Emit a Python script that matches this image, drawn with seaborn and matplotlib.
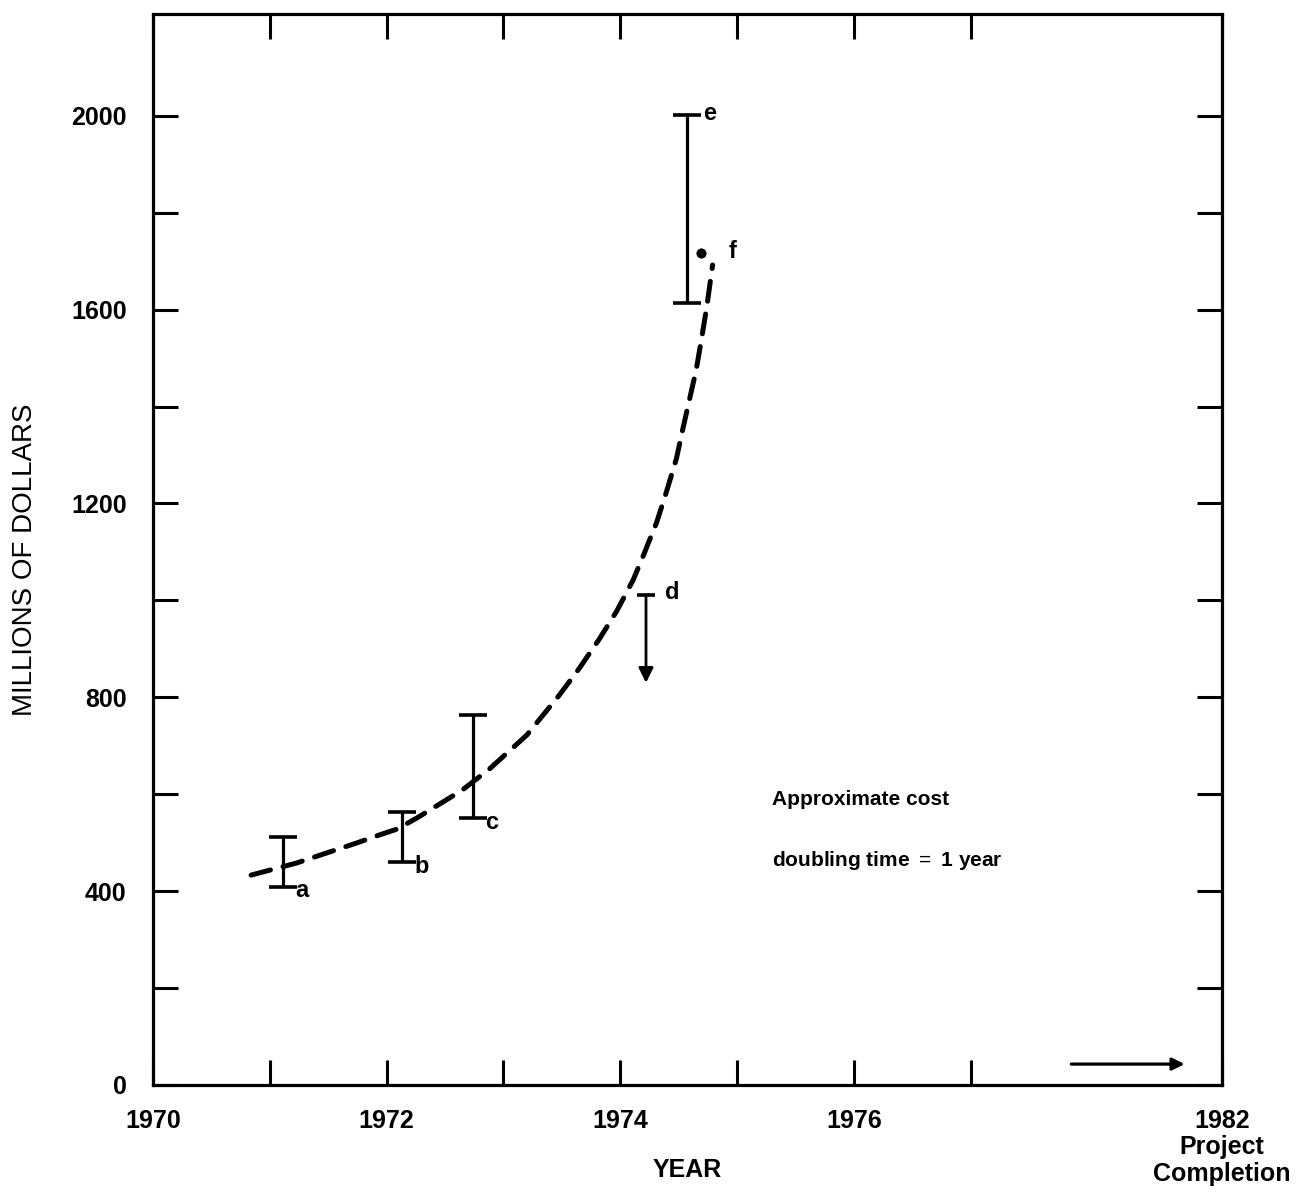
import matplotlib
matplotlib.use("Agg")
import matplotlib.pyplot as plt
import seaborn as sns
import pandas as pd

# ---- data ----
curve_years = [1970.84, 1971.23, 1971.49, 1971.74, 1971.94, 1972.09, 1972.26, 1972.51,
               1972.65, 1972.88, 1973.20, 1973.48, 1973.65, 1973.82, 1973.97, 1974.11,
               1974.19, 1974.31, 1974.39, 1974.48, 1974.53, 1974.59, 1974.65, 1974.69,
               1974.74, 1974.79]
curve_cost = [433, 458, 479, 499, 516, 528, 551, 588,
              609, 652, 722, 805, 860, 920, 978, 1042,
              1088, 1160, 1220, 1292, 1348, 1412, 1476, 1532,
              1605, 1692]

range_labels = ["a", "b", "c", "e"]
range_years = [1971.11, 1972.13, 1972.74, 1974.57]
range_low = [409, 460, 551, 1614]
range_high = [512, 563, 764, 2002]

limit_label = "d"
limit_year = 1974.22
limit_value = 1011
limit_arrow_to = 830

point_label = "f"
point_year = 1974.69
point_value = 1717

x_tick_pos = [1970, 1972, 1974, 1976, 1979.15]
x_tick_labels = ["1970", "1972", "1974", "1976", "1982\nProject\nCompletion"]
x_minor_pos = [1971, 1973, 1975, 1977]
y_tick_pos = [0, 400, 800, 1200, 1600, 2000]
y_minor_pos = [200, 600, 1000, 1400, 1800]

completion_arrow = (1977.86, 1978.83, 43)
note_lines = ["Approximate cost", "doubling time $=$ 1 year"]

# ---- styling ----
sns.set_theme(style="white")
plt.rcParams["font.family"] = ["Liberation Sans", "DejaVu Sans"]
plt.rcParams["mathtext.fontset"] = "custom"
plt.rcParams["mathtext.rm"] = "Liberation Sans"
for key in ["text.color", "axes.labelcolor", "xtick.color", "ytick.color"]:
    plt.rcParams[key] = "black"

fig = plt.figure(figsize=(13.04, 11.95), dpi=100)
ax = fig.add_axes([0.1173, 0.0921, 0.9371 - 0.1173, 0.9883 - 0.0921])

df = pd.DataFrame({"year": curve_years, "cost": curve_cost})
sns.lineplot(data=df, x="year", y="cost", ax=ax, color="black", lw=3.6,
             linestyle=(0, (4.0, 2.6)), dash_capstyle="round", sort=False)

# range estimates
for lab, xv, lo, hi in zip(range_labels, range_years, range_low, range_high):
    mid = (lo + hi) / 2
    ax.errorbar([xv], [mid], yerr=[[mid - lo], [hi - mid]], fmt="none",
                ecolor="black", elinewidth=2.3, capsize=10, capthick=2.6)
    if lab == "e":
        ax.annotate(lab, (xv, hi), xytext=(12, 1), textcoords="offset points",
                    ha="left", va="center", fontsize=17, fontweight="bold")
    else:
        ax.annotate(lab, (xv, lo), xytext=(9, -3), textcoords="offset points",
                    ha="left", va="center", fontsize=17, fontweight="bold")

# upper-limit estimate d
ax.plot([limit_year], [limit_value], marker="_", ms=13, mew=2.6, color="black")
ax.annotate("", xy=(limit_year, limit_arrow_to), xytext=(limit_year, limit_value),
            arrowprops=dict(arrowstyle="-|>", lw=2.0, color="black",
                            mutation_scale=22, shrinkA=0, shrinkB=0))
ax.annotate(limit_label, (limit_year, limit_value), xytext=(14, 2),
            textcoords="offset points", ha="left", va="center",
            fontsize=17, fontweight="bold")

# point f
sns.scatterplot(x=[point_year], y=[point_value], ax=ax, color="black", s=45,
                edgecolor="black", zorder=5)
ax.annotate(point_label, (point_year, point_value), xytext=(20, 1),
            textcoords="offset points", ha="left", va="center",
            fontsize=17, fontweight="bold")

# arrow toward 1982
x0, x1, ya = completion_arrow
ax.annotate("", xy=(x1, ya), xytext=(x0, ya),
            arrowprops=dict(arrowstyle="-|>", lw=2.3, color="black",
                            mutation_scale=18, shrinkA=0, shrinkB=0))

# note
ax.text(1975.30, 588, note_lines[0], ha="left", va="center", fontsize=15,
        fontweight="bold")
ax.text(1975.30, 464, note_lines[1], ha="left", va="center", fontsize=15,
        fontweight="bold")

# axes
ax.set_xlim(1970, 1979.15)
ax.set_ylim(0, 2210)
ax.set_xticks(x_tick_pos)
ax.set_xticklabels(x_tick_labels, fontsize=18, fontweight="bold", linespacing=1.15)
ax.set_xticks(x_minor_pos, minor=True)
ax.set_yticks(y_tick_pos)
ax.set_yticklabels([str(v) for v in y_tick_pos], fontsize=18, fontweight="bold")
ax.set_yticks(y_minor_pos, minor=True)
ax.tick_params(which="both", direction="in", length=18, width=2.2, color="black",
               top=True, right=True, bottom=True, left=True)
ax.tick_params(axis="y", which="major", pad=19)
ax.tick_params(axis="x", which="major", pad=17)
for sp in ax.spines.values():
    sp.set_visible(True)
    sp.set_color("black")
    sp.set_linewidth(2.3)

ax.set_xlabel("YEAR", fontsize=18, fontweight="bold")
ax.xaxis.set_label_coords(0.5, -0.068)
ax.set_ylabel("MILLIONS OF DOLLARS", fontsize=20)
ax.yaxis.set_label_coords(-0.108, 0.49)
ax.grid(False)

fig.savefig("out.png", dpi=100, facecolor="white")
